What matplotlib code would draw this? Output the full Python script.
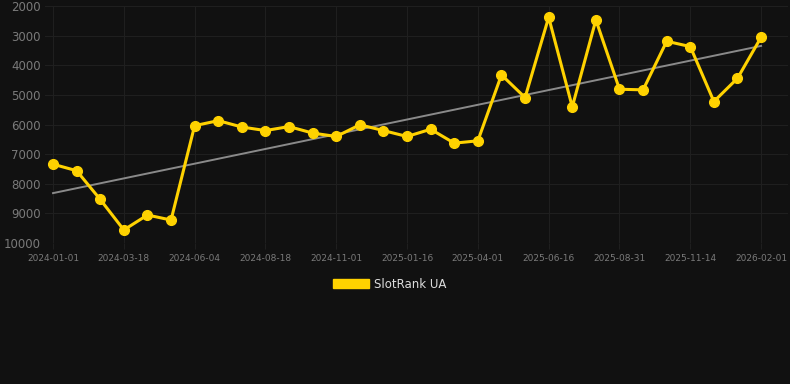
import matplotlib
matplotlib.use("Agg")

import numpy as np
import matplotlib.pyplot as plt
from matplotlib.patches import Patch

# ── data ──
tick_labels = [
    "2024-01-01", "2024-03-18", "2024-06-04", "2024-08-18", "2024-11-01",
    "2025-01-16", "2025-04-01", "2025-06-16", "2025-08-31", "2025-11-14",
    "2026-02-01",
]
rank = [
    7340, 7560, 8530, 9560, 9055, 9225, 6040, 5870, 6085, 6205,
    6070, 6290, 6405, 6010, 6205, 6405, 6160, 6630, 6550, 4325,
    5090, 2380, 5405, 2470, 4810, 4830, 3190, 3370, 5225, 4440,
    3055,
]

BG = "#111111"
YELLOW = "#FFD200"
GRID = "#1f1f1f"
TXT = "#7a7a7a"

x = np.arange(len(rank))
y = np.array(rank)

fig = plt.figure(figsize=(7.9, 3.84), dpi=100)
fig.patch.set_facecolor(BG)
ax = fig.add_axes([45 / 790, 1 - 243 / 384, 743 / 790, 237 / 384])
ax.set_facecolor(BG)

# trend line (least squares)
m, b = np.polyfit(x, y, 1)
ax.plot(x, m * x + b, color="#8a8a8a", linewidth=1.4, zorder=2)

ax.plot(x, y, color=YELLOW, linewidth=2.2, marker="o", markersize=7,
        markerfacecolor=YELLOW, markeredgecolor=YELLOW, zorder=3)

ax.set_ylim(10000, 2000)
ax.set_yticks(np.arange(2000, 10001, 1000))
ax.set_xlim(-0.34, 31.14)
ax.set_xticks(np.arange(0, len(rank), 3))
ax.set_xticklabels(tick_labels)

ax.grid(True, color=GRID, linewidth=0.8)
ax.set_axisbelow(True)
for s in ax.spines.values():
    s.set_visible(False)
ax.tick_params(axis="y", colors=TXT, labelsize=8.5, length=0, pad=3)
ax.tick_params(axis="x", colors=TXT, labelsize=6.5, length=4, width=0.8,
               pad=4, color=GRID)
for lab in ax.get_xticklabels():
    lab.set_color(TXT)

handle = Patch(facecolor=YELLOW, edgecolor=YELLOW)
leg = fig.legend([handle], ["SlotRank UA"], loc="center",
                 bbox_to_anchor=(390 / 790, 1 - 284 / 384), frameon=False,
                 handlelength=3.0, handleheight=0.9, fontsize=8.5,
                 labelcolor="#dddddd", handletextpad=0.5)

fig.savefig("out.png", dpi=100, facecolor=BG)
plt.close(fig)
